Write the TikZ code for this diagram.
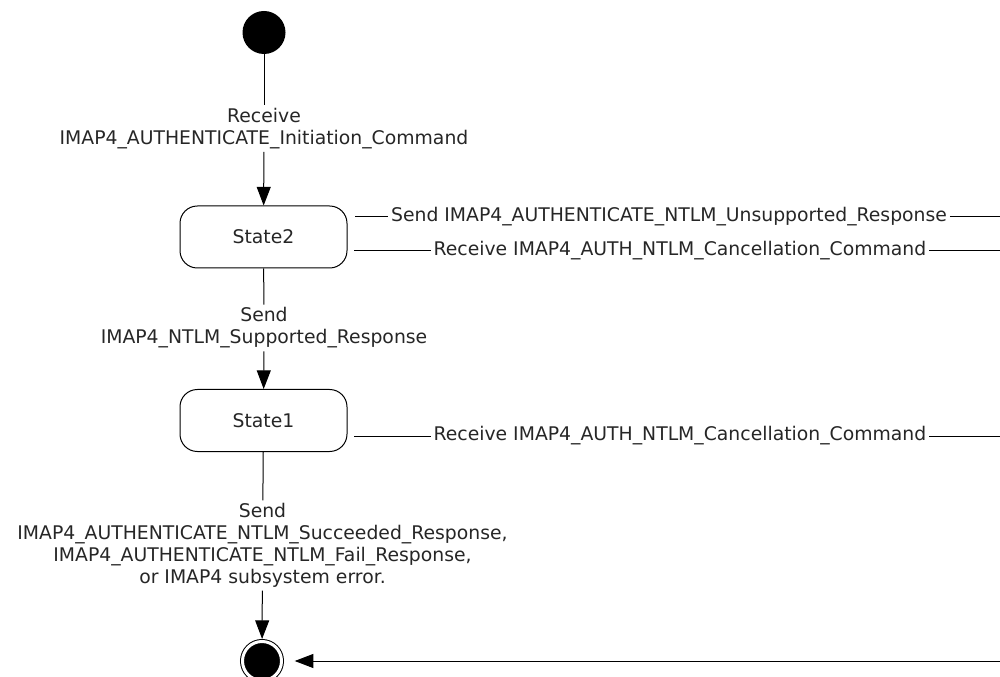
\documentclass[tikz,border=0pt]{standalone}
\usepackage{fontspec}
\setmainfont{DejaVu Sans}
\usetikzlibrary{arrows.meta}

\begin{document}
\begin{tikzpicture}[x=0.75pt,y=0.75pt,yscale=-1,xscale=1,
	every node/.style={font=\fontsize{14.1}{16.5}\selectfont, text=black!85},
	initstate/.style={circle, fill=black, minimum size=32.25pt, inner sep=0pt},
	finalstate/.style={circle, draw, fill=black, double, double distance=2.25pt, line width=0.75pt, minimum size=29.25pt, inner sep=0pt, outer sep=1.9pt},
	statebox/.style={draw, rounded corners=13pt, line width=0.75pt, minimum width=125.25pt, minimum height=46.5pt},
	trans/.style={align=center, inner sep=2pt},
	conn/.style={line width=0.75pt},
	arr/.style={conn, -{Triangle[length=14pt,width=10.5pt]}}]
			\useasboundingbox (0,0) rectangle (1000,677);
			
			%Shape: Circle (start)
			\node (init) at (264,32.5) [initstate] {};
			%Shape: Rounded Rect
			\node (state2) at (263.5,237) [statebox] {State2};
			%Shape: Rounded Rect
			\node (state1) at (263.5,420.5) [statebox] {State1};
			%Shape: Circle (end)
			\node (final) at (262,661) [finalstate] {};
			
			% Text Node
			\node (recvinit) at (264,128.5) [trans] {Receive\\IMAP4\_AUTHENTICATE\_Initiation\_Command};
			% Text Node
			\node (sendsupp) at (264,328) [trans] {Send\\IMAP4\_NTLM\_Supported\_Response};
			% Text Node
			\node (sendres) at (262.5,545.5) [trans] {Send\\IMAP4\_AUTHENTICATE\_NTLM\_Succeeded\_Response,\\IMAP4\_AUTHENTICATE\_NTLM\_Fail\_Response,\\or IMAP4 subsystem error.};
			% Text Node
			\node (sendunsupp) at (669,217) [trans] {Send IMAP4\_AUTHENTICATE\_NTLM\_Unsupported\_Response};
			% Text Node
			\node (cancel2) at (680,251) [trans] {Receive IMAP4\_AUTH\_NTLM\_Cancellation\_Command};
			% Text Node
			\node (cancel1) at (680,436) [trans] {Receive IMAP4\_AUTH\_NTLM\_Cancellation\_Command};
			
			%free ends
			\coordinate (s2top) at (355,217);
			\coordinate (s2bot) at (354,251);
			\coordinate (s1bot) at (354,436);
			\coordinate (edge1) at (1000,217);
			\coordinate (edge2) at (1000,251);
			\coordinate (edge3) at (1000,436);
			\coordinate (edge4) at (1000,661);
			
			%Straight Lines
			\draw [conn] (init) -- (recvinit);
			\draw [arr] (recvinit) -- (state2);
			\draw [conn] (state2) -- (sendsupp);
			\draw [arr] (sendsupp) -- (state1);
			\draw [conn] (state1) -- (sendres);
			\draw [arr] (sendres) -- (final);
			
			%Straight Lines
			\draw [conn] (s2top) -- (sendunsupp) -- (edge1);
			\draw [conn] (s2bot) -- (cancel2) -- (edge2);
			\draw [conn] (s1bot) -- (cancel1) -- (edge3);
			\draw [arr, shorten >=8pt] (edge4) -- (final);
		\end{tikzpicture}
\end{document}
